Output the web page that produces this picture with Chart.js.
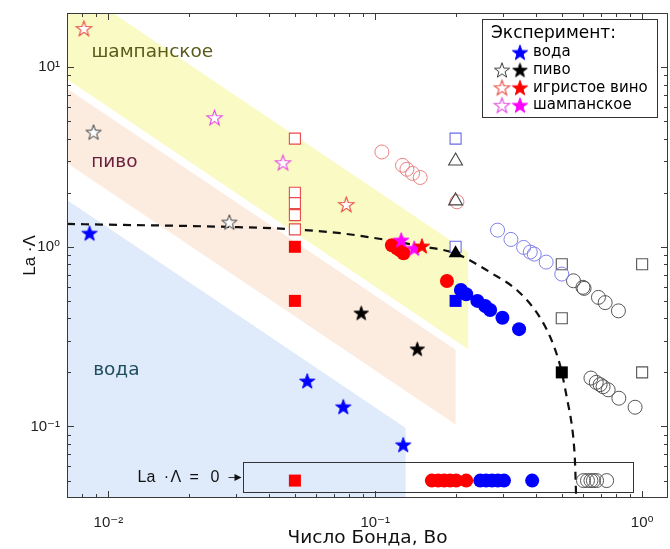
<!DOCTYPE html>
<html><head><meta charset="utf-8">
<script src="https://cdn.jsdelivr.net/npm/chart.js@4"></script>
<style>html,body{margin:0;padding:0;background:#fff}canvas{display:block}</style>
</head><body>
<canvas id="c" width="670" height="549"></canvas>
<script>
// ---------- axis setup ----------
const xRange = [0.007, 1.25];
const yRange = [0.04, 20];
const xMajorTicks = [0.01, 0.1, 1];
const xTickLabels = ['10⁻²', '10⁻¹', '10⁰'];
const yMajorTicks = [0.1, 1, 10];
const yTickLabels = ['10⁻¹', '10⁰', '10¹'];
const zeroRowY = 0.05; // stand-in value for La·Λ = 0 row

// ---------- experiment series (legend) ----------
const waterBo = [0.0085, 0.0556, 0.0759, 0.1273];
const waterLa = [1.19, 0.179, 0.1287, 0.0791];
const beerOpenBo = [0.0088, 0.0284];
const beerOpenLa = [4.34, 1.37];
const beerFilledBo = [0.0886, 0.1437];
const beerFilledLa = [0.428, 0.270];
const wineOpenBo = [0.0081, 0.0779];
const wineOpenLa = [16.4, 1.72];
const wineFilledBo = [0.1496];
const wineFilledLa = [1.01];
const champOpenBo = [0.025, 0.0451];
const champOpenLa = [5.23, 2.94];
const champFilledBo = [0.1251, 0.140];
const champFilledLa = [1.09, 0.98];

// ---------- other series ----------
const redDiscBo = [0.1155, 0.1206, 0.124, 0.1276, 0.1856];
const redDiscLa = [1.02, 0.98, 0.955, 0.92, 0.645];
const redSqFilledBo = [0.05, 0.05];
const redSqFilledLa = [1.0, 0.5];
const redSqOpenBo = [0.05, 0.05, 0.05, 0.05, 0.05];
const redSqOpenLa = [4.0, 2.0, 1.75, 1.5, 1.25];
const redRingBo = [0.1059, 0.1265, 0.1314, 0.138, 0.1474, 0.2023];
const redRingLa = [3.37, 2.84, 2.70, 2.56, 2.43, 1.78];
const blueSqOpenBo = [0.2, 0.2];
const blueSqOpenLa = [4.0, 1.0];
const blueSqFilledBo = [0.2];
const blueSqFilledLa = [0.5];
const triOpenBo = [0.2, 0.2];
const triOpenLa = [3.0, 1.8];
const triFilledBo = [0.2];
const triFilledLa = [0.92];
const blueDiscBo = [0.2094, 0.2192, 0.2414, 0.2582, 0.2695, 0.2996, 0.3459];
const blueDiscLa = [0.575, 0.544, 0.500, 0.468, 0.445, 0.403, 0.348];
const blueRingBo = [0.2873, 0.3224, 0.3597, 0.3809, 0.3941, 0.4369, 0.4999];
const blueRingLa = [1.238, 1.099, 0.992, 0.935, 0.911, 0.822, 0.705];
const greySqOpenBo = [0.5, 0.5, 1.0, 1.0];
const greySqOpenLa = [0.8, 0.4, 0.8, 0.2];
const blackSqFilledBo = [0.5];
const blackSqFilledLa = [0.2];
const greyRingBo = [0.553, 0.600, 0.606, 0.686, 0.727, 0.815, 0.643, 0.673, 0.696, 0.714, 0.746, 0.818, 0.941];
const greyRingLa = [0.647, 0.595, 0.587, 0.523, 0.489, 0.440, 0.186, 0.176, 0.171, 0.1665, 0.160, 0.1437, 0.128];

// ---------- La·Λ = 0 row ----------
const zeroRedSqBo = [0.05];
const zeroRedDiscBo = [0.163, 0.1721, 0.1812, 0.1907, 0.2011, 0.2192];
const zeroBlueDiscBo = [0.2474, 0.2602, 0.2737, 0.2879, 0.3037, 0.3873];
const zeroGreyRingBo = [0.6029, 0.624, 0.643, 0.657, 0.675, 0.7362];

// ---------- dashed model curve ----------
const curveBo = [0.007, 0.0094, 0.0284, 0.05, 0.074, 0.107, 0.147, 0.2, 0.233, 0.27, 0.339, 0.403, 0.452, 0.486, 0.5, 0.524, 0.546, 0.556, 0.561, 0.566];
const curveLa = [1.34, 1.33, 1.29, 1.25, 1.19, 1.10, 1.01, 0.92, 0.82, 0.72, 0.575, 0.43, 0.316, 0.235, 0.20, 0.141, 0.10, 0.077, 0.061, 0.04];

// ---------- regime bands (Bo, La·Λ vertices) ----------
const champagneBand = [[0.007, 20], [0.0104, 20], [0.223, 0.933], [0.223, 0.269], [0.007, 8.57]];
const beerBand = [[0.007, 7.61], [0.2, 0.267], [0.2, 0.1025], [0.007, 2.93]];
const waterBand = [[0.007, 1.82], [0.13, 0.098], [0.13, 0.04], [0.007, 0.04]];
const zeroBox = [[0.032, 0.0637], [0.925, 0.0434]];

const regionLabels = ['шампанское', 'пиво', 'вода'];
const legendLabels = ['вода', 'пиво', 'игристое вино', 'шампанское'];
const zeroLabelParts = ['La', '·', 'Λ', '=', '0'];

// ---------- helpers ----------
const pts = (xs, ys) => xs.map((x, i) => ({x, y: ys[i]}));
const zpts = xs => xs.map(x => ({x, y: zeroRowY}));

function starCanvas(r, fill, stroke, lw) {
  const s = Math.ceil(2 * r + lw + 3);
  const c = document.createElement('canvas'); c.width = s; c.height = s;
  const g = c.getContext('2d');
  g.translate(s / 2, s / 2 + r * 0.08);
  g.beginPath();
  for (let i = 0; i < 10; i++) {
    const rr = i % 2 === 0 ? r : r * 0.40;
    const a = -Math.PI / 2 + i * Math.PI / 5;
    g.lineTo(rr * Math.cos(a), rr * Math.sin(a));
  }
  g.closePath();
  if (fill) { g.fillStyle = fill; g.fill(); }
  g.lineWidth = lw; g.strokeStyle = stroke; g.lineJoin = 'miter'; g.stroke();
  return c;
}
const S = {
  blue: starCanvas(8, '#0000ff', '#0000ff', 1),
  black: starCanvas(7.5, '#000000', '#000000', 1),
  greyOpen: starCanvas(8, '#ffffff', '#3a3a3a', 1),
  red: starCanvas(8, '#ff0000', '#ff0000', 1),
  redOpen: starCanvas(8, '#ffffff', '#e8463c', 1.1),
  mag: starCanvas(8, '#ff00ff', '#ff00ff', 1),
  magOpen: starCanvas(8, '#ffffff', '#e040e0', 1.1)
};

function ds(label, data, style, o) {
  return Object.assign({label, data, pointStyle: style, showLine: false, pointHoverRadius: 0}, o);
}
const disc = (c, r) => ({pointRadius: r || 7, backgroundColor: c, borderColor: c, borderWidth: 0});
const ring = (c) => ({pointRadius: 7, backgroundColor: 'rgba(0,0,0,0)', borderColor: c, borderWidth: 1});
const sqOpen = (c) => ({pointRadius: 7.8, backgroundColor: '#ffffff', borderColor: c, borderWidth: 1.1});
const sqFilled = (c) => ({pointRadius: 8.5, backgroundColor: c, borderColor: c, borderWidth: 0});
const img = {pointRadius: 8};

const datasets = [
  ds('вода', pts(waterBo, waterLa), S.blue, img),
  ds('пиво (откр.)', pts(beerOpenBo, beerOpenLa), S.greyOpen, img),
  ds('пиво', pts(beerFilledBo, beerFilledLa), S.black, img),
  ds('игристое (откр.)', pts(wineOpenBo, wineOpenLa), S.redOpen, img),
  ds('игристое вино', pts(wineFilledBo, wineFilledLa), S.red, img),
  ds('шампанское (откр.)', pts(champOpenBo, champOpenLa), S.magOpen, img),
  ds('шампанское', pts(champFilledBo, champFilledLa), S.mag, img),
  ds('tri filled', pts(triFilledBo, triFilledLa), 'triangle', {pointRadius: 8, backgroundColor: '#000', borderColor: '#000', borderWidth: 0}),
  ds('blue sq filled', pts(blueSqFilledBo, blueSqFilledLa), 'rect', sqFilled('#0000ff')),
  ds('blue disc', pts(blueDiscBo, blueDiscLa), 'circle', disc('#0000ff')),
  ds('red disc', pts(redDiscBo, redDiscLa), 'circle', disc('#ff0000')),
  ds('red sq filled', pts(redSqFilledBo, redSqFilledLa), 'rect', sqFilled('#ff0000')),
  ds('black sq filled', pts(blackSqFilledBo, blackSqFilledLa), 'rect', sqFilled('#000000')),
  ds('tri open', pts(triOpenBo, triOpenLa), 'triangle', {pointRadius: 8, backgroundColor: 'rgba(0,0,0,0)', borderColor: '#444', borderWidth: 1.1}),
  ds('red ring', pts(redRingBo, redRingLa), 'circle', ring('#ec8080')),
  ds('red sq open', pts(redSqOpenBo, redSqOpenLa), 'rect', sqOpen('#e84a4a')),
  ds('blue sq open', pts(blueSqOpenBo, blueSqOpenLa), 'rect', sqOpen('#6a6ae6')),
  ds('blue ring', pts(blueRingBo, blueRingLa), 'circle', ring('#8080e8')),
  ds('grey sq open', pts(greySqOpenBo, greySqOpenLa), 'rect', sqOpen('#555555')),
  ds('grey ring', pts(greyRingBo, greyRingLa), 'circle', ring('#555555')),
  ds('zero red sq', zpts(zeroRedSqBo), 'rect', sqFilled('#ff0000')),
  ds('zero red disc', zpts(zeroRedDiscBo), 'circle', disc('#ff0000')),
  ds('zero blue disc', zpts(zeroBlueDiscBo), 'circle', disc('#0000ff')),
  ds('zero grey ring', zpts(zeroGreyRingBo), 'circle', ring('#555555')),
  {label: 'curve', type: 'line', data: pts(curveBo, curveLa), showLine: true, pointRadius: 0, borderColor: '#111',
   borderWidth: 2.2, borderDash: [8, 6], fill: false, cubicInterpolationMode: 'monotone'}
];

// ---------- ticks ----------
function tickList(range) {
  const out = [];
  for (let e = -3; e <= 2; e++) for (let m = 1; m <= 9; m++) {
    const v = +(m * Math.pow(10, e)).toPrecision(6);
    if (v > range[0] * 1.0001 && v < range[1] * 0.9999) out.push(v);
  }
  return out;
}
const near = (a, b) => Math.abs(a / b - 1) < 1e-6;
function labelOf(v, majors, labels) {
  const i = majors.findIndex(m => near(m, v));
  return i >= 0 ? labels[i] : '';
}
const TICKF = {family: 'Liberation Sans, Arial, DejaVu Sans, sans-serif', size: 15};

// ---------- plugins ----------
function poly(ctx, x, y, vs) {
  ctx.beginPath();
  vs.forEach((p, i) => { const px = x.getPixelForValue(p[0]), py = y.getPixelForValue(p[1]); i ? ctx.lineTo(px, py) : ctx.moveTo(px, py); });
  ctx.closePath();
}
const bandsPlugin = {
  id: 'bands',
  beforeDatasetsDraw(chart) {
    const {ctx, chartArea: a, scales: {x, y}} = chart;
    ctx.save();
    ctx.beginPath(); ctx.rect(a.left, a.top, a.right - a.left, a.bottom - a.top); ctx.clip();
    ctx.fillStyle = '#fafac4'; poly(ctx, x, y, champagneBand); ctx.fill();
    ctx.fillStyle = '#fcebdf'; poly(ctx, x, y, beerBand); ctx.fill();
    ctx.fillStyle = '#dfeafa'; poly(ctx, x, y, waterBand); ctx.fill();
    ctx.font = '18.5px DejaVu Sans'; ctx.textBaseline = 'middle'; ctx.textAlign = 'left';
    ctx.fillStyle = '#5a5a1c'; ctx.fillText(regionLabels[0], x.getPixelForValue(0.00864), y.getPixelForValue(12.07));
    ctx.fillStyle = '#6a1f3e'; ctx.fillText(regionLabels[1], x.getPixelForValue(0.00862), y.getPixelForValue(2.94));
    ctx.fillStyle = '#1f4d5e'; ctx.fillText(regionLabels[2], x.getPixelForValue(0.00877), y.getPixelForValue(0.2065));
    // zero row box
    const bx0 = Math.round(x.getPixelForValue(zeroBox[0][0])) + 0.5, by0 = Math.round(y.getPixelForValue(zeroBox[0][1])) + 0.5;
    const bx1 = Math.round(x.getPixelForValue(zeroBox[1][0])) + 0.5, by1 = Math.round(y.getPixelForValue(zeroBox[1][1])) + 0.5;
    ctx.strokeStyle = '#333'; ctx.lineWidth = 1; ctx.strokeRect(bx0, by0, bx1 - bx0, by1 - by0);
    const my = (by0 + by1) / 2;
    ctx.fillStyle = '#111'; ctx.font = '16px Liberation Sans, Arial, sans-serif';
    ctx.textAlign = 'left';
    ctx.fillText(zeroLabelParts[0], bx0 - 106, my);
    ctx.textAlign = 'center';
    ctx.fillText(zeroLabelParts[1], bx0 - 77, my);
    ctx.textAlign = 'left';
    ctx.fillText(zeroLabelParts[2], bx0 - 73, my);
    ctx.fillText(zeroLabelParts[3], bx0 - 54, my);
    ctx.fillText(zeroLabelParts[4], bx0 - 33, my);
    ctx.beginPath(); ctx.moveTo(bx0 - 15, my); ctx.lineTo(bx0 - 4, my); ctx.stroke();
    ctx.beginPath(); ctx.moveTo(bx0 - 2, my); ctx.lineTo(bx0 - 9, my - 3.5); ctx.lineTo(bx0 - 9, my + 3.5); ctx.closePath(); ctx.fill();
    ctx.restore();
  }
};
const framePlugin = {
  id: 'frame',
  afterDatasetsDraw(chart) {
    const {ctx, chartArea: a, scales: {x, y}} = chart;
    ctx.save();
    ctx.strokeStyle = '#3a3a3a'; ctx.lineWidth = 1;
    ctx.beginPath();
    x.ticks.forEach(t => {
      const px = Math.round(x.getPixelForValue(t.value)) + 0.5;
      const L = xMajorTicks.some(m => near(m, t.value)) ? 7 : 4;
      ctx.moveTo(px, a.bottom); ctx.lineTo(px, a.bottom - L);
      ctx.moveTo(px, a.top); ctx.lineTo(px, a.top + L);
    });
    y.ticks.forEach(t => {
      const py = Math.round(y.getPixelForValue(t.value)) + 0.5;
      const L = yMajorTicks.some(m => near(m, t.value)) ? 7 : 4;
      ctx.moveTo(a.left, py); ctx.lineTo(a.left + L, py);
      ctx.moveTo(a.right, py); ctx.lineTo(a.right - L, py);
    });
    ctx.stroke();
    ctx.strokeRect(Math.round(a.left) + 0.5, Math.round(a.top) + 0.5, Math.round(a.right - a.left) - 1, Math.round(a.bottom - a.top) - 1);
    // legend
    const L0 = 482, T0 = 19, W = 175, H = 98;
    ctx.fillStyle = '#fff'; ctx.fillRect(L0, T0, W, H);
    ctx.strokeStyle = '#333'; ctx.strokeRect(L0 + 0.5, T0 + 0.5, W, H);
    ctx.fillStyle = '#000'; ctx.textBaseline = 'middle'; ctx.textAlign = 'left';
    ctx.font = '17px DejaVu Sans';
    ctx.fillText('Эксперимент:', 491, 34);
    ctx.font = '15px DejaVu Sans';
    const rows = [[null, S.blue], [S.greyOpen, S.black], [S.redOpen, S.red], [S.magOpen, S.mag]];
    rows.forEach((r, i) => {
      const yy = 52.5 + i * 17.6;
      if (r[0]) ctx.drawImage(r[0], 502 - r[0].width / 2, yy - r[0].height / 2);
      ctx.drawImage(r[1], 520 - r[1].width / 2, yy - r[1].height / 2);
      ctx.fillText(legendLabels[i], 533, yy);
    });
    ctx.restore();
  }
};

new Chart(document.getElementById('c'), {
  type: 'scatter',
  data: {datasets},
  options: {
    responsive: false, animation: false, devicePixelRatio: 1,
    layout: {autoPadding: false, padding: {top: 13, right: 2, left: 0, bottom: 0}},
    plugins: {legend: {display: false}, tooltip: {enabled: false}},
    scales: {
      x: {
        type: 'logarithmic', min: xRange[0], max: xRange[1],
        afterFit: s => { s.height = 51; s.paddingLeft = 0; s.paddingRight = 0; },
        afterBuildTicks: s => { s.ticks = tickList(xRange).map(v => ({value: v})); },
        grid: {display: false, drawTicks: false}, border: {display: false},
        ticks: {autoSkip: false, maxRotation: 0, padding: 16, color: '#222', font: TICKF,
                callback: v => labelOf(v, xMajorTicks, xTickLabels)},
        title: {display: true, text: 'Число Бонда, Bo', color: '#111', font: {family: 'DejaVu Sans', size: 18.5}, padding: {top: 0, bottom: 0}}
      },
      y: {
        type: 'logarithmic', min: yRange[0], max: yRange[1],
        afterFit: s => { s.width = 67; s.paddingTop = 0; s.paddingBottom = 0; },
        afterBuildTicks: s => { s.ticks = tickList(yRange).map(v => ({value: v})); },
        grid: {display: false, drawTicks: false}, border: {display: false},
        ticks: {autoSkip: false, padding: 7, color: '#222', font: TICKF,
                callback: v => labelOf(v, yMajorTicks, yTickLabels)},
        title: {display: true, text: 'La ·Λ', color: '#111', font: {family: 'Liberation Sans, Arial, sans-serif', size: 17}, padding: {top: 20, bottom: 0}}
      }
    }
  },
  plugins: [bandsPlugin, framePlugin]
});
</script>
</body></html>
